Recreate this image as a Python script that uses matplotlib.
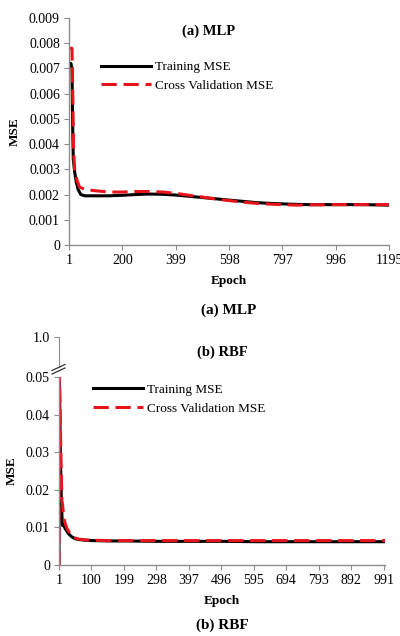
import matplotlib
matplotlib.use("Agg")
import matplotlib.pyplot as plt

plt.rcParams["font.family"] = ["Liberation Serif", "DejaVu Serif"]

# (a) MLP curves
mlp_epoch_train = [1, 8, 12, 15, 17, 22, 28, 35, 45, 60, 100, 150, 200, 250, 300, 350,
                   399, 450, 500, 550, 598, 650, 700, 750, 797, 850, 900, 1000, 1100, 1195]
mlp_train = [0.0072, 0.0072, 0.0070, 0.0045, 0.0034, 0.0029, 0.0025, 0.0022, 0.00200,
             0.00195, 0.00195, 0.00195, 0.00197, 0.00200, 0.00202, 0.00201, 0.00198,
             0.00193, 0.00188, 0.00183, 0.00178, 0.00173, 0.00168, 0.00165, 0.00163,
             0.00161, 0.00160, 0.00160, 0.00160, 0.00158]
mlp_epoch_cv = [1, 12, 15, 18, 22, 30, 40, 60, 100, 150, 200, 250, 300, 350, 399, 450,
                500, 550, 598, 650, 700, 750, 797, 850, 900, 1000, 1100, 1195]
mlp_cv = [0.0078, 0.0078, 0.0060, 0.0038, 0.0030, 0.0026, 0.0023, 0.0022, 0.00215,
          0.00210, 0.00210, 0.00212, 0.00212, 0.00210, 0.00205, 0.00197, 0.00190,
          0.00182, 0.00176, 0.00170, 0.00165, 0.00162, 0.00160, 0.00158, 0.00159,
          0.00160, 0.00160, 0.00160]
mlp_xticks = [1, 200, 399, 598, 797, 996, 1195]
mlp_yticks = [0, 0.001, 0.002, 0.003, 0.004, 0.005, 0.006, 0.007, 0.008, 0.009]

# (b) RBF curves
rbf_epoch = [1, 2, 3, 5, 8, 10, 12, 14, 17, 20, 25, 30, 40, 50, 60, 80, 100, 150, 200,
             300, 400, 500, 600, 700, 800, 900, 995]
rbf_train = [0, 0.05, 0.045, 0.030, 0.018, 0.013, 0.0105, 0.0108, 0.0102, 0.0097, 0.0090,
             0.0083, 0.0075, 0.0070, 0.0068, 0.0066, 0.0065, 0.0064, 0.0064, 0.0063,
             0.0063, 0.0063, 0.0062, 0.0062, 0.0062, 0.0062, 0.0062]
rbf_cv = [0, 0.05, 0.048, 0.038, 0.024, 0.017, 0.016, 0.014, 0.012, 0.011, 0.0098, 0.0090,
          0.0078, 0.0072, 0.0069, 0.0067, 0.0066, 0.0065, 0.0065, 0.0065, 0.0065, 0.0065,
          0.0065, 0.0065, 0.0065, 0.0065, 0.0065]
rbf_xticks = [1, 100, 199, 298, 397, 496, 595, 694, 793, 892, 991]
rbf_yticks = [0, 0.01, 0.02, 0.03, 0.04, 0.05]

SPINE = "#8c8c8c"
FS = 10
LFS = 9.5
DASH = (5, 2.2)


def style_axes(ax, xticks, yticks, ylabels):
    for s in ("top", "right"):
        ax.spines[s].set_visible(False)
    for s in ("left", "bottom"):
        ax.spines[s].set_color(SPINE)
        ax.spines[s].set_linewidth(1.0)
    ax.set_xticks(xticks)
    ax.set_xticklabels([str(t) for t in xticks], fontsize=FS)
    ax.set_yticks(yticks)
    ax.set_yticklabels(ylabels, fontsize=FS)
    ax.tick_params(axis="both", direction="out", length=3.5, color=SPINE, pad=3)
    ax.set_xlabel("Epoch", fontsize=LFS, fontweight="bold", labelpad=6)
    ax.set_ylabel("MSE", fontsize=LFS, fontweight="bold", labelpad=6)


fig = plt.figure(figsize=(4.0, 6.36), dpi=100)

# ---- (a) MLP ----
ax1 = fig.add_axes([0.1725, 0.6148, 0.80, 0.3569])
ax1.plot(mlp_epoch_train, mlp_train, color="black", lw=2.2, label="Training MSE")
ax1.plot(mlp_epoch_cv, mlp_cv, color="#e8141c", lw=2.2, dashes=DASH,
         label="Cross Validation MSE")
ax1.set_xlim(1, 1195)
ax1.set_ylim(0, 0.009)
style_axes(ax1, mlp_xticks, mlp_yticks, ["0"] + [f"{v:.3f}" for v in mlp_yticks[1:]])
ax1.text(0.436, 0.943, "(a) MLP", transform=ax1.transAxes, ha="center", va="center",
         fontsize=10.5, fontweight="bold")
ax1.legend(loc="upper left", bbox_to_anchor=(0.08, 0.84), frameon=False, fontsize=LFS,
           handlelength=3.8, handletextpad=0.3, labelspacing=0.5, borderpad=0)
fig.text(0.5725, 1 - 310 / 636, "(a) MLP", ha="center", va="center",
         fontsize=11, fontweight="bold")

# ---- (b) RBF ----
ax2 = fig.add_axes([0.1475, 0.1116, 0.815, 0.2956])
ax2.plot(rbf_epoch, rbf_train, color="black", lw=2.2, label="Training MSE")
ax2.plot(rbf_epoch, rbf_cv, color="#e8141c", lw=2.2, dashes=DASH,
         label="Cross Validation MSE")
ax2.set_xlim(1, 995)
ax2.set_ylim(0, 0.05)
style_axes(ax2, rbf_xticks, rbf_yticks, ["0"] + [f"{v:.2f}" for v in rbf_yticks[1:]])
ax2.legend(loc="upper left", bbox_to_anchor=(0.085, 1.0), frameon=False, fontsize=LFS,
           handlelength=3.8, handletextpad=0.3, labelspacing=0.5, borderpad=0)

# broken-axis stub above the RBF panel
ax3 = fig.add_axes([0.1475, 1 - 367 / 636, 0.815, 30 / 636])
ax3.patch.set_visible(False)
for s in ("top", "right", "bottom"):
    ax3.spines[s].set_visible(False)
ax3.spines["left"].set_color(SPINE)
ax3.set_ylim(0, 1.0)
ax3.set_xticks([])
ax3.set_yticks([1.0])
ax3.set_yticklabels(["1.0"], fontsize=FS)
ax3.tick_params(axis="y", direction="out", length=3.5, color=SPINE, pad=3)
ax3.text(0.5, 0.5, "(b) RBF", transform=ax3.transAxes, ha="center", va="center",
         fontsize=10.5, fontweight="bold")

# break marks
for dy in (0, 3.5):
    fig.add_artist(plt.Line2D([52 / 400, 65 / 400],
                              [1 - (374 - dy) / 636, 1 - (368 - dy) / 636],
                              transform=fig.transFigure, color="#333333", lw=0.9))

fig.text(0.555, 1 - 625 / 636, "(b) RBF", ha="center", va="center",
         fontsize=11, fontweight="bold")

fig.savefig("out.png", dpi=100)
